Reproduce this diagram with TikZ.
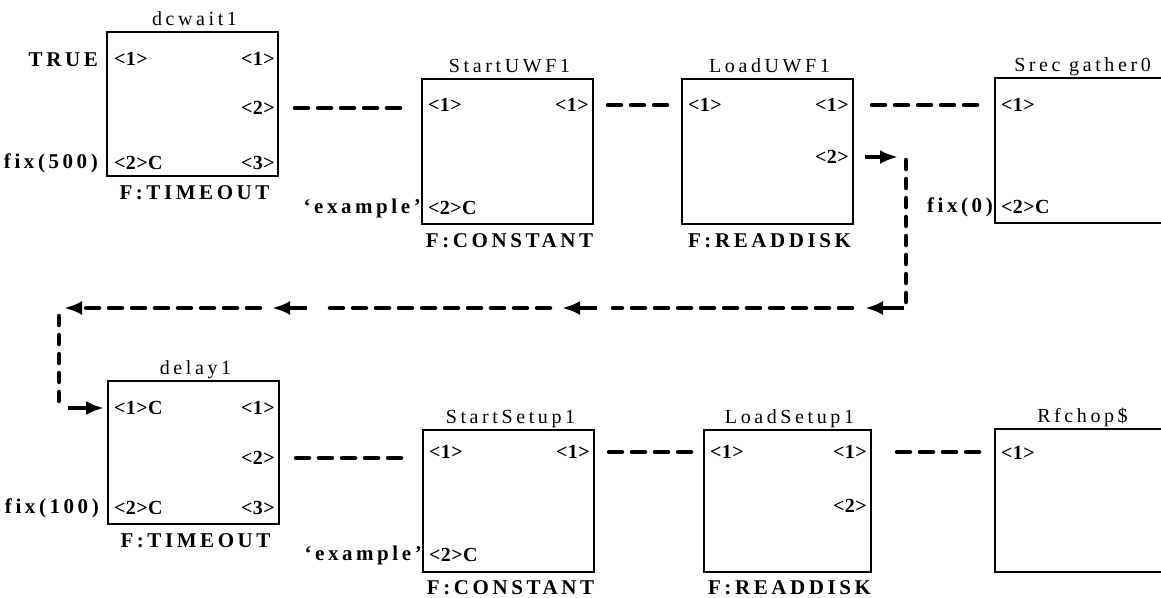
\documentclass[tikz,border=0pt]{standalone}
\usepackage{fontspec}
\setmainfont{Liberation Serif}
\newfontfamily\titlefont[LetterSpace=18]{Liberation Serif}
\newfontfamily\widefont[LetterSpace=17]{Liberation Serif}
\newfontfamily\portfont[LetterSpace=2]{Liberation Serif}
\usetikzlibrary{arrows.meta,calc}

\tikzset{
  block/.style={draw, line width=2pt, minimum width=171pt, minimum height=144pt,
    inner sep=0pt, anchor=north west},
  title/.style={font=\titlefont\fontsize{20}{20}\selectfont, anchor=base, inner sep=0pt},
  func/.style={font=\widefont\bfseries\fontsize{21}{21}\selectfont, anchor=base,
    inner sep=0pt, text depth=0pt},
  inport/.style={font=\portfont\bfseries\fontsize{20}{20}\selectfont, anchor=west, inner sep=0pt},
  outport/.style={font=\portfont\bfseries\fontsize{20}{20}\selectfont, anchor=east, inner sep=0pt},
  const/.style={font=\widefont\bfseries\fontsize{21}{21}\selectfont, anchor=east, inner sep=0pt},
  wire/.style={line width=4.5pt, line cap=round, dash pattern=on 13pt off 10pt},
  vwire/.style={line width=4.5pt, line cap=round, dash pattern=on 9pt off 10pt},
  head/.style={-{Latex[length=18pt,width=14pt]}},
  flow/.style={line width=4.5pt, head},
}

\begin{document}
\begin{tikzpicture}[x=1pt,y=-1pt]
\useasboundingbox (0,0) rectangle (1161,597);
\clip (0,0) rectangle (1161,597);

% ---------- upper chain ----------
\node[block] (dcwait) at (106,31) {};
\node[title] (dcwait-t) at ($(dcwait.north)+(2,-6)$) {dcwait1};
\node[func]  (dcwait-f) at ($(dcwait.south)+(2,22)$) {F:TIMEOUT};
\node[inport]  (dcwait-i1) at (114,59)  {<1>};
\node[inport]  (dcwait-i2) at (114,163) {<2>C};
\node[outport] (dcwait-o1) at (275,59)  {<1>};
\node[outport] (dcwait-o2) at (275,108) {<2>};
\node[outport] (dcwait-o3) at (275,163) {<3>};
\node[const] (c-true) at (98,60) {TRUE};
\node[const] (c-fix500) at (98,163) {fix(500)};

\node[block, minimum height=145pt] (suwf) at (421,78) {};
\node[title] (suwf-t) at ($(suwf.north)+(2,-6)$) {StartUWF1};
\node[func]  (suwf-f) at ($(suwf.south)+(2,22)$) {F:CONSTANT};
\node[inport]  (suwf-i1) at (428,105) {<1>};
\node[inport]  (suwf-i2) at (428,208) {<2>C};
\node[outport] (suwf-o1) at (589,105) {<1>};
\node[const] (c-ex1) at (421,208) {‘example’};

\node[block, minimum height=145pt] (luwf) at (681,78) {};
\node[title] (luwf-t) at ($(luwf.north)+(2,-6)$) {LoadUWF1};
\node[func]  (luwf-f) at ($(luwf.south)+(2,22)$) {F:READDISK};
\node[inport]  (luwf-i1) at (688,105) {<1>};
\node[outport] (luwf-o1) at (849,105) {<1>};
\node[outport] (luwf-o2) at (849,157) {<2>};

\node[block, minimum height=145pt] (srec) at (994,77) {};
\node[title] (srec-t) at ($(srec.north)+(2,-6)$) {Srec gather0};
\node[inport]  (srec-i1) at (1001,105) {<1>};
\node[inport]  (srec-i2) at (1001,207) {<2>C};
\node[const] (c-fix0) at (993,207) {fix(0)};

\draw[wire] ($(dcwait.east |- dcwait-o2)+(16,0)$) -- ($(suwf.west |- dcwait-o2)+(-16,0)$);
\draw[wire] ($(suwf.east |- suwf-o1)+(14,0)$) -- ($(luwf.west |- suwf-o1)+(-13,0)$);
\draw[wire] ($(luwf.east |- luwf-o1)+(18,0)$) -- ($(srec.west |- luwf-o1)+(-12,0)$);

% ---------- feedback from LoadUWF1 <2> to delay1 <1> ----------
\coordinate (fb-top) at (906,160);
\coordinate (fb-bot) at (906,302);
\coordinate (fb-r)   at (904,308);
\coordinate (fb-t1)  at (865,308);
\coordinate (fb-m1a) at (852,308);
\coordinate (fb-m1b) at (613,308);
\coordinate (fb-s2)  at (597,308);
\coordinate (fb-t2)  at (562,308);
\coordinate (fb-m2a) at (550,308);
\coordinate (fb-m2b) at (322,308);
\coordinate (fb-s3)  at (307,308);
\coordinate (fb-t3)  at (272,308);
\coordinate (fb-m3a) at (260,308);
\coordinate (fb-l)   at (64,308);
\coordinate (fb-dn-a) at (59,316);
\coordinate (fb-dn-b) at (59,404);
\coordinate (fb-in)  at (68,408);

\draw[flow] ($(luwf.east |- luwf-o2)+(11,0)$) -- ($(fb-top |- luwf-o2)+(-8,0)$);
\draw[vwire] (fb-top) -- (fb-bot);
\draw[flow] (fb-r) -- (fb-t1);
\draw[wire] (fb-m1a) -- (fb-m1b);
\draw[flow] (fb-s2) -- (fb-t2);
\draw[wire] (fb-m2a) -- (fb-m2b);
\draw[flow] (fb-s3) -- (fb-t3);
\draw[wire, head] (fb-m3a) -- (fb-l);
\draw[vwire] (fb-dn-a) -- (fb-dn-b);

% ---------- lower chain ----------
\node[block, minimum height=143pt] (delay) at (107,380) {};
\node[title] (delay-t) at ($(delay.north)+(2,-6)$) {delay1};
\node[func]  (delay-f) at ($(delay.south)+(2,22)$) {F:TIMEOUT};
\node[inport]  (delay-i1) at (114,408) {<1>C};
\node[inport]  (delay-i2) at (114,508) {<2>C};
\node[outport] (delay-o1) at (275,408) {<1>};
\node[outport] (delay-o2) at (275,458) {<2>};
\node[outport] (delay-o3) at (275,508) {<3>};
\node[const] (c-fix100) at (99,508) {fix(100)};

\draw[flow] (fb-in) -- ($(delay.west |- delay-i1)+(-3,0)$);

\node[block, minimum height=142pt] (sset) at (422,429) {};
\node[title] (sset-t) at ($(sset.north)+(2,-6)$) {StartSetup1};
\node[func]  (sset-f) at ($(sset.south)+(2,21)$) {F:CONSTANT};
\node[inport]  (sset-i1) at (429,452) {<1>};
\node[inport]  (sset-i2) at (429,555) {<2>C};
\node[outport] (sset-o1) at (590,452) {<1>};
\node[const] (c-ex2) at (422,555) {‘example’};

\node[block, minimum width=167pt, minimum height=142pt] (lset) at (703,429) {};
\node[title] (lset-t) at ($(lset.north)+(2,-6)$) {LoadSetup1};
\node[func]  (lset-f) at ($(lset.south)+(2,21)$) {F:READDISK};
\node[inport]  (lset-i1) at (710,452) {<1>};
\node[outport] (lset-o1) at (867,452) {<1>};
\node[outport] (lset-o2) at (867,506) {<2>};

\node[block, minimum height=143pt] (rfchop) at (994,428) {};
\node[title] (rfchop-t) at ($(rfchop.north)+(2,-6)$) {Rfchop\$};
\node[inport]  (rfchop-i1) at (1001,453) {<1>};

\draw[wire] ($(delay.east |- delay-o2)+(16,0)$) -- ($(sset.west |- delay-o2)+(-16,0)$);
\draw[wire] ($(sset.east |- sset-o1)+(14,0)$) -- ($(lset.west |- sset-o1)+(-12,0)$);
\draw[wire] ($(lset.east |- lset-o1)+(25,0)$) -- ($(rfchop.west |- lset-o1)+(-14,0)$);
\end{tikzpicture}
\end{document}
